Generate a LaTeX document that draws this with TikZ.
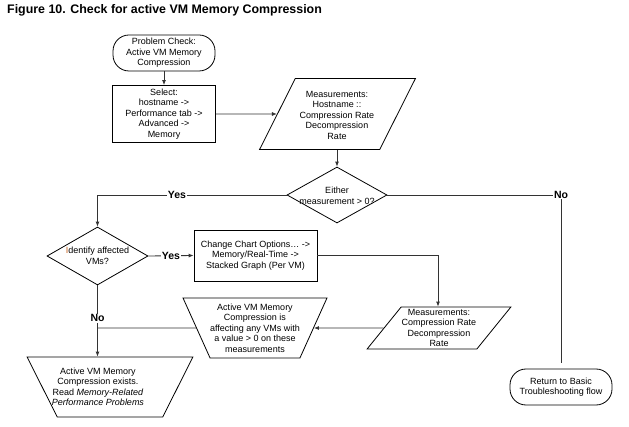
\documentclass[tikz,border=0pt]{standalone}
\usepackage{fontspec}
\setmainfont{Liberation Sans}
\usetikzlibrary{shapes.geometric,arrows.meta}
\definecolor{ink}{HTML}{000000}
\definecolor{lineclr}{HTML}{333333}
\definecolor{idclr}{HTML}{C8641E}
\begin{document}
\begin{tikzpicture}[x=1pt,y=-1pt,
  shp/.style={draw=ink, line width=0.8pt, inner sep=0pt},
  term/.style={shp, rectangle, rounded corners=16pt},
  box/.style={shp, rectangle},
  para/.style={shp, trapezium, trapezium stretches=true, inner sep=1pt},
  dia/.style={shp, diamond},
  txt/.style={align=center, inner sep=0pt, text=ink, font=\fontsize{9}{10.5}\selectfont},
  conn/.style={draw=lineclr, line width=0.85pt},
  arr/.style={conn, -{Latex[length=5pt,width=4pt]}},
  lbl/.style={font=\fontsize{10.5}{12}\selectfont\bfseries, text=ink, fill=white, inner sep=0.8pt}
]
\useasboundingbox (0,0) rectangle (629,427);

% title
\node[anchor=west, inner sep=0pt, text=ink, font=\fontsize{12.4}{14}\selectfont\bfseries] (title) at (7,10) {Figure 10. Check for active VM Memory Compression};

% shapes
\node[term, minimum width=102pt, minimum height=36pt] (start) at (164,53) {};
\node[box, minimum width=103pt, minimum height=57pt] (sel) at (164,114) {};
\node[para, trapezium left angle=63.8, trapezium right angle=116.2, minimum width=156pt, minimum height=71pt] (meas1) at (337.5,114) {\phantom{M}};
\node[dia, minimum width=100pt, minimum height=56pt] (dec1) at (337,195) {};
\node[dia, minimum width=101pt, minimum height=58pt] (dec2) at (97.5,256) {};
\node[box, minimum width=123pt, minimum height=51pt] (chg) at (255.5,255.5) {};
\node[para, trapezium left angle=62.4, trapezium right angle=117.6, minimum width=144pt, minimum height=42pt] (meas2) at (439,328) {\phantom{M}};
\node[para, trapezium left angle=109.3, trapezium right angle=109.3, minimum width=144pt, minimum height=60pt] (trap1) at (255,328) {\phantom{M}};
\node[para, trapezium left angle=108.4, trapezium right angle=108.4, minimum width=166pt, minimum height=60pt] (fin) at (110,387) {\phantom{M}};
\node[term, minimum width=102pt, minimum height=36pt] (ret) at (561,387) {};

% texts
\node[txt] (startt) at (start) {Problem Check:\\Active VM Memory\\Compression};
\node[txt] (selt) at (sel) {Select:\\hostname ->\\Performance tab ->\\Advanced ->\\Memory};
\node[txt] (meas1t) at (337,115) {Measurements:\\Hostname ::\\Compression Rate\\Decompression\\Rate};
\node[txt] (dec1t) at (337,196) {Either\\measurement > 0?};
\node[txt] (dec2t) at (97.5,256) {{\color{idclr}I}dentify affected\\VMs?};
\node[txt] (chgt) at (chg) {Change Chart Options… ->\\Memory/Real-Time ->\\Stacked Graph (Per VM)};
\node[txt] (meas2t) at (439,328) {Measurements:\\Compression Rate\\Decompression\\Rate};
\node[txt] (trap1t) at (255,328) {Active VM Memory\\Compression is\\affecting any VMs with\\a value > 0 on these\\measurements};
\node[txt] (fint) at (98,387) {Active VM Memory\\Compression exists.\\Read \textit{Memory-Related}\\\textit{Performance Problems}};
\node[txt] (rett) at (ret) {Return to Basic\\Troubleshooting flow};

% connectors
\draw[arr] (start) -- (sel);
\draw[arr] (sel) -- (meas1);
\draw[arr] (meas1.south -| dec1.north) -- (dec1.north);
\draw[arr] (dec1.west) -| node[lbl, pos=0.29] (yes1) {Yes} (dec2.north);
\draw[conn, shorten >=6pt] (dec1.east) -| node[lbl, pos=0.5] (no1) {No} (ret.north);
\draw[arr] (dec2.east) -- node[lbl] (yes2) {Yes} (chg.west);
\draw[arr] (chg.east) -| (meas2.north -| 438,0);
\draw[arr] (meas2) -- (trap1);
\draw[conn] (trap1) -- (dec2.south |- trap1);
\draw[arr] (dec2.south) -- node[lbl, pos=0.46] (no2) {No} (dec2.south |- fin.north);
\end{tikzpicture}
\end{document}
